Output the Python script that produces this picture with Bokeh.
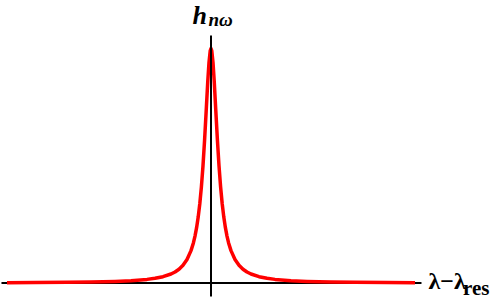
from bokeh.plotting import figure
from bokeh.models import Range1d, Label
from bokeh.embed import file_html
from bokeh.resources import INLINE

# Lorentzian-like resonance profile (detuning in units of the half width)
detuning_right = [0.0, 0.1, 0.25, 0.4, 0.6, 0.8, 1.0, 1.2, 1.4, 1.6, 1.8, 2.0, 2.2, 2.5,
                  3.0, 3.5, 4.0, 4.5, 5.0, 6.0, 7.0, 8.0, 10.0, 12.0, 15.0, 18.0, 22.0, 25.5]
h_right = [1.0, 0.99, 0.941, 0.862, 0.735, 0.61, 0.5, 0.41, 0.338, 0.281, 0.236, 0.2, 0.171, 0.138,
           0.1, 0.0755, 0.0588, 0.0471, 0.0385, 0.027, 0.02, 0.0154, 0.0099, 0.0069, 0.0044, 0.0031, 0.0021, 0.0015]

x_vals = [-d for d in reversed(detuning_right[1:])] + detuning_right
y_vals = list(reversed(h_right[1:])) + h_right

x_label = "λ−λ"
x_label_sub = "res"
y_label = "h"
y_label_sub = "nω"

W, H = 498, 299
X0, X1 = -26.3125, 35.9375
Y0, Y1 = -0.07036, 1.2047
p = figure(width=W, height=H, output_backend="svg", toolbar_location=None,
           min_border=0, outline_line_color=None,
           x_range=Range1d(X0, X1), y_range=Range1d(Y0, Y1))
p.axis.visible = False
p.grid.visible = False
p.background_fill_color = "white"
p.border_fill_color = "white"

# horizontal axis
p.segment(x0=[-26.19], y0=[0], x1=[26.31], y1=[0], line_color="black", line_width=2)
# curve
p.line(x_vals, y_vals, line_color="#ff0000", line_width=3.5, line_join="round")
# vertical axis
p.segment(x0=[0], y0=[-0.0576], x1=[0], y1=[1.0554], line_color="black", line_width=2)

font = "Liberation Serif"
p.add_layout(Label(x=-2.31, y=1.1407, text=y_label, text_font=font, text_font_size="26px",
                   text_font_style="bold italic", text_color="black", text_baseline="alphabetic"))
p.add_layout(Label(x=-0.31, y=1.1237, text=y_label_sub, text_font=font, text_font_size="19px",
                   text_font_style="bold italic", text_color="black", text_baseline="alphabetic"))
p.add_layout(Label(x=27.19, y=0.0064, text=x_label, text_font=font, text_font_size="24px",
                   text_font_style="bold", text_color="black", text_baseline="alphabetic"))
p.add_layout(Label(x=31.5, y=-0.0192, text=x_label_sub, text_font=font, text_font_size="21px",
                   text_font_style="bold", text_color="black", text_baseline="alphabetic"))

open("out.html", "w").write(file_html(p, INLINE))
